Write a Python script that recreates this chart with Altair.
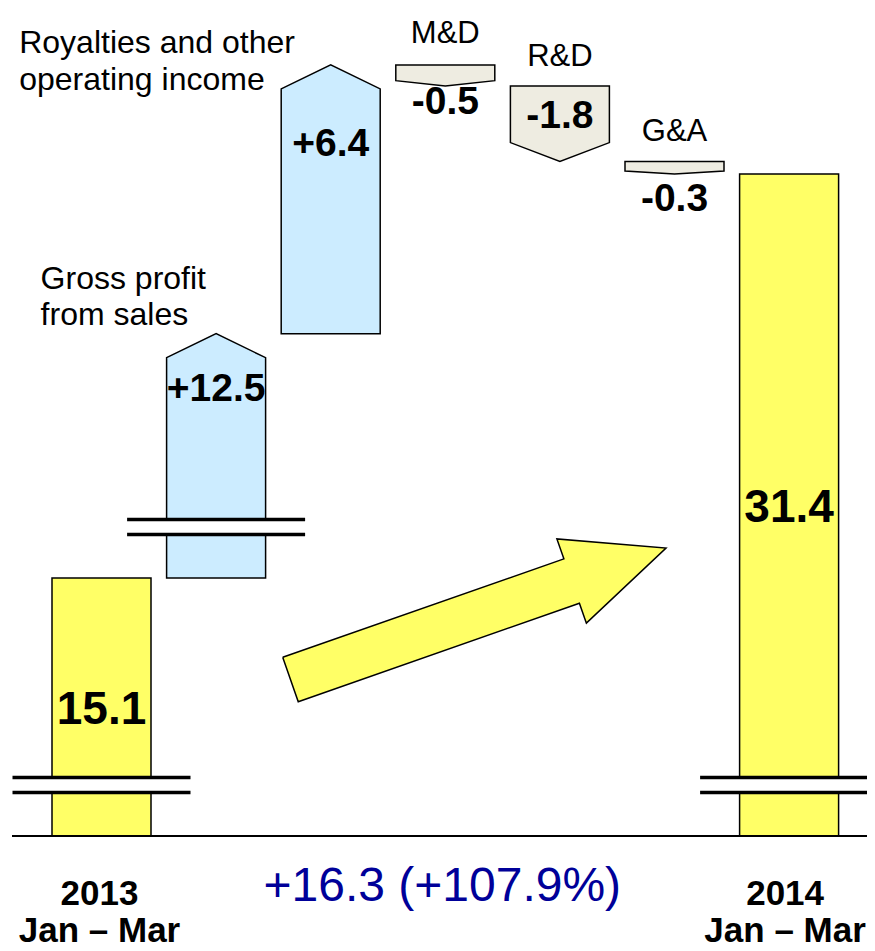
import math
import altair as alt
import pandas as pd

# ---------------- data ----------------
steps = ["2013 Jan – Mar", "Gross profit from sales", "Royalties and other operating income",
         "M&D", "R&D", "G&A", "2014 Jan – Mar"]
values = [15.1, 12.5, 6.4, -0.5, -1.8, -0.3, 31.4]
kinds = ["total", "up", "up", "down", "down", "down", "total"]
value_labels = ["15.1", "+12.5", "+6.4", "-0.5", "-1.8", "-0.3", "31.4"]
# part of a step hidden by the axis break (the last total hides the sum)
hidden_by_break = [8.96, 6.68, 0, 0, 0, 0]
top_labels = {1: ["Gross profit", "from sales"], 2: ["Royalties and other", "operating income"],
              3: ["M&D"], 4: ["R&D"], 5: ["G&A"]}
bottom_labels = {0: ["2013", "Jan – Mar"], 6: ["2014", "Jan – Mar"]}

# ---------------- layout / style ----------------
W, H = 859, 943
X_PX = 114.6          # px per step
Y_PX = 42.0           # px per unit of value
X0_VIEW = 93.5        # view x of the first step centre
BASE_VIEW = 828       # view y of the baseline
BAR_W = 99
FONT = "Liberation Sans, Arial, sans-serif"
FILL = {"total": "#FFFF66", "up": "#CCECFF", "down": "#EEECE1"}

def ux(px):
    return px / X_PX

def uy(px):
    return px / Y_PX

xs = alt.Scale(domain=[-X0_VIEW / X_PX, (W - X0_VIEW) / X_PX], nice=False, zero=False)
ys = alt.Scale(domain=[-(H - BASE_VIEW) / Y_PX, BASE_VIEW / Y_PX], nice=False, zero=False)
X = lambda f: alt.X(f, type="quantitative", scale=xs, axis=None)
Y = lambda f: alt.Y(f, type="quantitative", scale=ys, axis=None)

# ---------------- geometry from the data ----------------
hidden = hidden_by_break + [sum(hidden_by_break)]
geo = []
level = 0.0
for i, (v, k, h) in enumerate(zip(values, kinds, hidden)):
    if k == "total":
        lo, hi = 0.0, v - h
        level = hi
    elif k == "up":
        lo, hi = level, level + v - h
        level = hi
    else:
        hi, lo = level, level + v
        level = lo
    geo.append((lo, hi))

hw = ux(BAR_W / 2)
shape_rows = []
for i, ((lo, hi), k) in enumerate(zip(geo, kinds)):
    tip = min(0.25 * (hi - lo), uy(24))
    if k == "total":
        pts = [(i - hw, hi, lo), (i + hw, hi, lo)]
    elif k == "up":
        pts = [(i - hw, hi - tip, lo), (i, hi, lo), (i + hw, hi - tip, lo)]
    else:
        pts = [(i - hw, hi, lo + tip), (i, hi, lo), (i + hw, hi, lo + tip)]
    for (x, y, y2) in pts:
        shape_rows.append(dict(step=steps[i], kind=k, x=x, y=y, y2=y2))
shapes_df = pd.DataFrame(shape_rows)

shapes = alt.Chart(shapes_df).mark_area(stroke="black", strokeWidth=1.5, strokeJoin="miter",
                                        opacity=1, interpolate="linear").encode(
    x=X("x"), y=Y("y").stack(None), y2="y2",
    detail="step:N",
    color=alt.Color("kind:N", scale=alt.Scale(domain=list(FILL), range=list(FILL.values())), legend=None),
)

# axis breaks
gap_rows, line_rows = [], []
for i, h in enumerate(hidden):
    if h > 0:
        lo = geo[i][0]
        mid = lo + uy(51)
        g = uy(7.5)
        gap_rows.append(dict(x=i - hw - ux(3), x2=i + hw + ux(3), y=mid - g, y2=mid + g))
        for yy in (mid - g, mid + g):
            line_rows.append(dict(x=i - ux(89), x2=i + ux(89), y=yy))
gaps = alt.Chart(pd.DataFrame(gap_rows)).mark_rect(color="white").encode(
    x=X("x"), x2="x2", y=Y("y"), y2="y2")
blines = alt.Chart(pd.DataFrame(line_rows)).mark_rule(color="black", strokeWidth=3.5).encode(
    x=X("x"), x2="x2", y=Y("y"))

baseline = alt.Chart(pd.DataFrame([dict(x=-ux(89.5), x2=xs.domain[1], y=0.0)])).mark_rule(
    color="black", strokeWidth=1.8).encode(x=X("x"), x2="x2", y=Y("y"))

# big change arrow between the two totals
ARROW_TAIL = (1.649, 3.726)
ARROW_TIP = (4.926, 6.857)
ax, ay = ARROW_TAIL[0] * X_PX, ARROW_TAIL[1] * Y_PX
bx, by = ARROW_TIP[0] * X_PX, ARROW_TIP[1] * Y_PX
L = math.hypot(bx - ax, by - ay)
dx, dy = (bx - ax) / L, (by - ay) / L
nx, ny = -dy, dx
sw, hwid, hl = 23.5, 44.6, 100.0
kx, ky = bx - dx * hl, by - dy * hl
apts = [(ax + nx * sw, ay + ny * sw), (kx + nx * sw, ky + ny * sw), (kx + nx * hwid, ky + ny * hwid),
        (bx, by), (kx - nx * hwid, ky - ny * hwid), (kx - nx * sw, ky - ny * sw),
        (ax - nx * sw, ay - ny * sw), (ax + nx * sw, ay + ny * sw)]
arrow_df = pd.DataFrame([dict(o=j, x=px / X_PX, y=py / Y_PX) for j, (px, py) in enumerate(apts)])
big_arrow = alt.Chart(arrow_df).mark_line(fill="#FFFF66", stroke="black", strokeWidth=1.5,
                                          strokeJoin="miter").encode(
    x=X("x"), y=Y("y"), order="o:Q")

# ---------------- text ----------------
# value labels: (anchor, px offset downward)
val_anchor = ["top", "top", "top", "bottom", "top", "bottom", "top"]
val_off = [132, 55, 79, 16, 30, 25, 334]
val_size = [46, 39, 39, 39, 39, 39, 46]
vrows = []
for i, (lo, hi) in enumerate(geo):
    ref = hi if val_anchor[i] == "top" else lo
    vrows.append(dict(x=i, y=ref - uy(val_off[i]), text=value_labels[i], fs=val_size[i]))
vals = alt.Chart(pd.DataFrame(vrows)).mark_text(font=FONT, fontWeight="bold", baseline="middle",
                                                align="center", color="black").encode(
    x=X("x"), y=Y("y"), text="text:N", size=alt.Size("fs:Q", scale=None, legend=None))

# labels left of the up arrows (left aligned), offsets relative to arrow centre / tip
left_spec = {1: (-175.5, [-45, -9]), 2: (-311.5, [-12, 25])}
lrows = []
for i, (dxp, dys) in left_spec.items():
    for line, dyp in zip(top_labels[i], dys):
        lrows.append(dict(x=i + ux(dxp), y=geo[i][1] - uy(dyp), text=line))
left_labels = alt.Chart(pd.DataFrame(lrows)).mark_text(font=FONT, fontSize=32, align="left",
                                                        baseline="alphabetic", color="black").encode(
    x=X("x"), y=Y("y"), text="text:N")

center_off = {3: 22, 4: 20, 5: 20}
crows = [dict(x=i, y=geo[i][1] + uy(off), text=top_labels[i][0]) for i, off in center_off.items()]
center_labels = alt.Chart(pd.DataFrame(crows)).mark_text(font=FONT, fontSize=31, align="center",
                                                          baseline="alphabetic", color="black").encode(
    x=X("x"), y=Y("y"), text="text:N")

brows = []
bottom_dx = {0: -2, 6: -4}
for i, lines in bottom_labels.items():
    for line, dyp in zip(lines, [69, 106]):
        brows.append(dict(x=i + ux(bottom_dx[i]), y=-uy(dyp), text=line))
bottom = alt.Chart(pd.DataFrame(brows)).mark_text(font=FONT, fontSize=35, fontWeight="bold",
                                                   align="center", baseline="alphabetic",
                                                   color="black").encode(
    x=X("x"), y=Y("y"), text="text:N")

change = values[-1] - values[0]
pct = change / values[0] * 100
change_df = pd.DataFrame([dict(x=(0 + len(steps) - 1) / 2 - ux(3), y=-uy(51),
                               text=f"+{change:.1f} (+{pct:.1f}%)")])
change_text = alt.Chart(change_df).mark_text(font=FONT, fontSize=48, align="center",
                                             baseline="middle", color="#000099").encode(
    x=X("x"), y=Y("y"), text="text:N")

chart = alt.layer(
    shapes, gaps, blines, baseline, big_arrow, vals, left_labels, center_labels, bottom, change_text
).properties(
    width=W, height=H, padding=0, autosize=alt.AutoSizeParams(type="none")
).configure_view(stroke=None)

chart.save("out.html", embed_options={"renderer": "svg", "actions": False})
